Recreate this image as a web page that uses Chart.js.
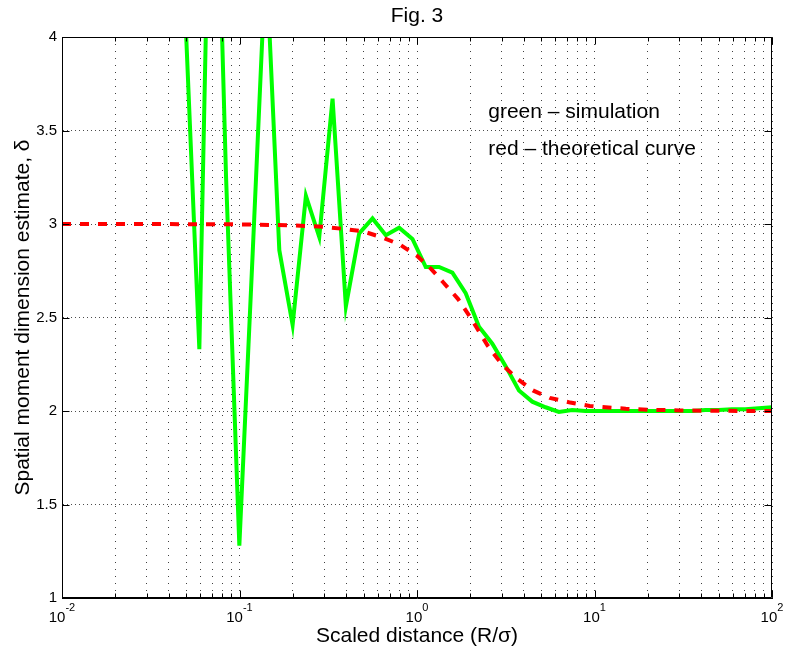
<!DOCTYPE html>
<html>
<head>
<meta charset="utf-8">
<script src="https://cdn.jsdelivr.net/npm/chart.js@4.4.0/dist/chart.umd.min.js"></script>
<style>
body{margin:0;background:#fff;}
canvas{display:block;}
</style>
</head>
<body>
<canvas id="graficaFig3" width="786" height="656"></canvas>
<script>
// green - simulation
var simX = [0.05, 0.0594, 0.0706, 0.084, 0.0998, 0.1186, 0.141, 0.1676, 0.1992, 0.2367,
  0.2814, 0.3344, 0.3975, 0.4724, 0.5615, 0.6673, 0.7931, 0.9427, 1.12, 1.331,
  1.582, 1.881, 2.235, 2.657, 3.158, 3.753, 4.461, 5.302, 6.301, 7.489,
  8.901, 10.58, 12.57, 14.94, 17.76, 21.11, 25.09, 29.82, 35.44, 42.12,
  50.06, 59.5, 70.72, 84.05, 100]
var simY = [4.02, 2.33, 5.8, 3.25, 1.28, 2.84, 4.44, 2.86, 2.46, 3.15,
  2.93, 3.67, 2.56, 2.95, 3.03, 2.94, 2.98, 2.92, 2.77, 2.77,
  2.74, 2.63, 2.45, 2.36, 2.24, 2.11, 2.05, 2.02, 1.995, 2.005,
  2.0, 2.0, 2.0, 2.0, 2.0, 2.0, 2.0, 2.0, 2.0, 2.005,
  2.005, 2.01, 2.01, 2.015, 2.02]
// red - theoretical curve
var teoX = [0.01, 0.03, 0.1, 0.2, 0.3, 0.4, 0.5, 0.65, 0.8, 1.0, 1.2, 1.4, 1.7, 2.0,
  2.5, 3.0, 3.7, 4.5, 5.6, 7.3, 9.4, 12, 15, 20, 30, 50, 100]
var teoY = [3.0, 3.0, 2.998, 2.993, 2.985, 2.972, 2.96, 2.925, 2.89, 2.83, 2.76, 2.69, 2.6, 2.5,
  2.35, 2.25, 2.17, 2.11, 2.07, 2.045, 2.027, 2.019, 2.012, 2.007, 2.003, 2.001, 2.0]

var decadas = [0.01, 0.1, 1, 10, 100]
var exponentes = ['-2', '-1', '0', '1', '2']
var yTicks = [1, 1.5, 2, 2.5, 3, 3.5, 4]
var titulo = 'Fig. 3'
var xTitulo = 'Scaled distance (R/\u03c3)'
var yTitulo = 'Spatial moment dimension estimate, \u03b4'
var notas = ['green \u2013 simulation', 'red \u2013 theoretical curve']
var notasX = [2.52, 2.52]
var notasY = [3.6, 3.4]

var fuente = '"Liberation Sans", Arial, sans-serif'

// log grid: 1..9 in each decade
var gridX = []
for (var d = 0; d < decadas.length; d++) {
  gridX.push(decadas[d])
  if (d < decadas.length - 1) {
    for (var k = 2; k < 10; k++) gridX.push(+(decadas[d] * k).toPrecision(3))
  }
}

const ejes = {
  id: 'ejes',
  afterDraw(chart) {
    const ctx = chart.ctx
    const a = chart.chartArea
    const xs = chart.scales.x, ys = chart.scales.y
    const L = Math.round(a.left) + 0.5, R = Math.round(a.right) - 0.5
    const T = Math.round(a.top) + 0.5, B = Math.round(a.bottom) - 0.5
    ctx.save()
    ctx.strokeStyle = '#000'
    ctx.lineWidth = 1
    ctx.beginPath()
    ctx.rect(L, T, R - L, B - T)
    // ticks pointing inward
    gridX.forEach(function (v) {
      var px = Math.round(xs.getPixelForValue(v)) + 0.5
      var len = decadas.indexOf(v) >= 0 ? 7 : 4
      ctx.moveTo(px, B); ctx.lineTo(px, B - len)
      ctx.moveTo(px, T); ctx.lineTo(px, T + len)
    })
    yTicks.forEach(function (v) {
      var py = Math.round(ys.getPixelForValue(v)) + 0.5
      ctx.moveTo(L, py); ctx.lineTo(L + 7, py)
      ctx.moveTo(R, py); ctx.lineTo(R - 7, py)
    })
    ctx.stroke()

    ctx.fillStyle = '#000'
    // x tick labels 10^n
    ctx.textBaseline = 'alphabetic'
    ctx.textAlign = 'left'
    decadas.forEach(function (v, i) {
      var px = xs.getPixelForValue(v)
      ctx.font = '15px ' + fuente
      var w1 = ctx.measureText('10').width
      ctx.font = '11px ' + fuente
      var w2 = ctx.measureText(exponentes[i]).width
      var x0 = px - (w1 + w2) / 2
      ctx.font = '15px ' + fuente
      ctx.fillText('10', x0, 622)
      ctx.font = '11px ' + fuente
      ctx.fillText(exponentes[i], x0 + w1, 611)
    })

    // titles
    var cx = (a.left + a.right) / 2
    ctx.textAlign = 'center'
    ctx.font = '21px ' + fuente
    ctx.fillText(titulo, cx, 22)
    ctx.fillText(xTitulo, cx, 642)
    ctx.save()
    ctx.translate(29, (a.top + a.bottom) / 2)
    ctx.rotate(-Math.PI / 2)
    ctx.fillText(yTitulo, 0, 0)
    ctx.restore()

    // text notes in data coordinates
    ctx.textAlign = 'left'
    ctx.textBaseline = 'middle'
    notas.forEach(function (t, i) {
      ctx.fillText(t, xs.getPixelForValue(notasX[i]), ys.getPixelForValue(notasY[i]))
    })
    ctx.restore()
  }
}

const ctx = document.getElementById('graficaFig3')
const fig3 = new Chart(ctx, {
  type: 'line',
  data: {
    datasets: [{
      label: 'red - theoretical curve',
      data: teoX.map(function (x, i) { return {x: x, y: teoY[i]} }),
      borderColor: '#ff0000',
      borderWidth: 4,
      borderDash: [9, 9],
      pointRadius: 0,
      fill: false,
      tension: 0,
      clip: 0
    }, {
      label: 'green - simulation',
      data: simX.map(function (x, i) { return {x: x, y: simY[i]} }),
      borderColor: '#00ff00',
      borderWidth: 4,
      pointRadius: 0,
      fill: false,
      tension: 0,
      clip: 0
    }]
  },
  options: {
    responsive: false,
    animation: false,
    layout: {padding: {top: 37, right: 14, left: 0, bottom: 0}},
    plugins: {
      legend: {display: false},
      tooltip: {enabled: false},
      title: {display: false}
    },
    scales: {
      x: {
        type: 'logarithmic',
        min: 0.01,
        max: 100,
        afterBuildTicks: function (s) { s.ticks = gridX.map(function (v) { return {value: v} }) },
        afterFit: function (s) { s.height = 58 },
        ticks: {display: false},
        grid: {color: 'rgba(0,0,0,0.75)', drawTicks: false, lineWidth: 1},
        border: {display: true, color: '#000', dash: [1, 6]}
      },
      y: {
        min: 1,
        max: 4,
        afterBuildTicks: function (s) { s.ticks = yTicks.map(function (v) { return {value: v} }) },
        afterFit: function (s) { s.width = 62 },
        ticks: {
          color: '#000',
          font: {family: fuente, size: 15},
          padding: 5,
          callback: function (v) { return '' + v }
        },
        grid: {color: 'rgba(0,0,0,0.7)', drawTicks: false, lineWidth: 1},
        border: {display: true, color: '#000', dash: [1, 3]}
      }
    }
  },
  plugins: [ejes]
})
</script>
</body>
</html>
